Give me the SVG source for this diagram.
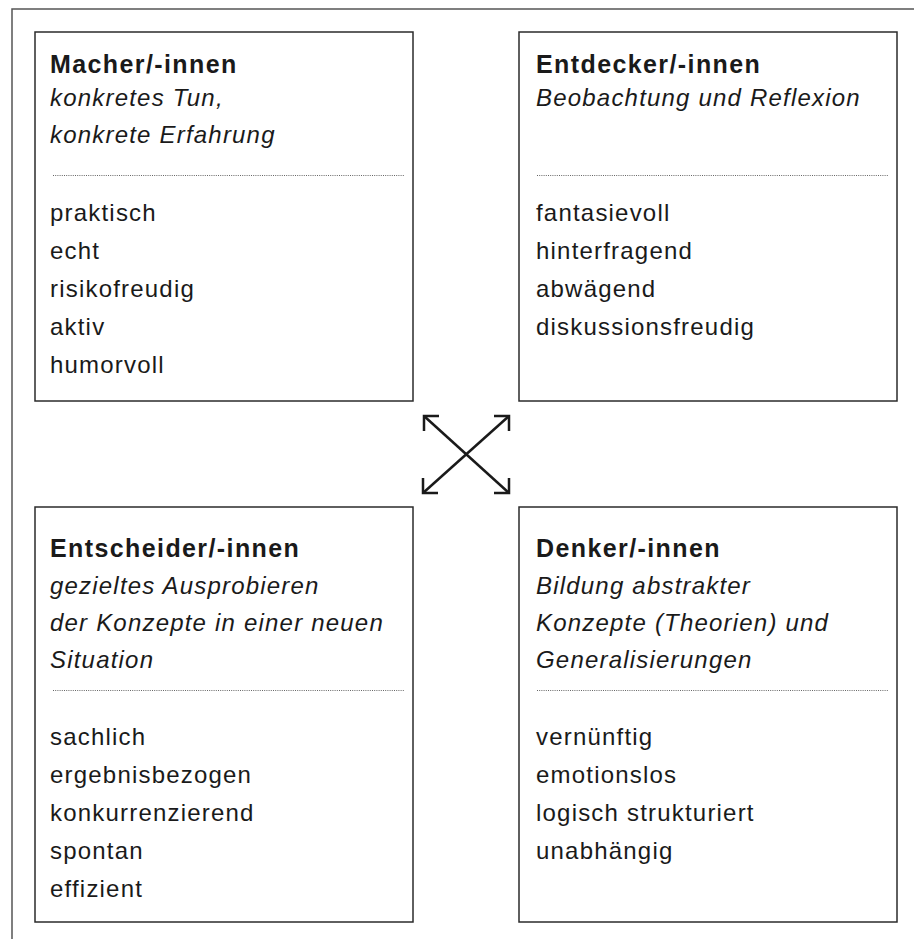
<svg xmlns="http://www.w3.org/2000/svg" width="914" height="939" viewBox="0 0 914 939">
<style>
.box{fill:#fff;stroke:#2b2b2b;stroke-width:1.5}
.frame{fill:none;stroke:#555;stroke-width:1.5}
.dot{stroke:#666;stroke-width:1;stroke-dasharray:1 1.2}
text{font-family:"Liberation Sans",Arial,sans-serif;fill:#1a1a1a}
.t{font-size:25px;font-weight:bold;letter-spacing:1.4px}
.i{font-size:24px;font-style:italic;letter-spacing:1.2px}
.b{font-size:24px;letter-spacing:1.2px}
.arr{fill:none;stroke:#1a1a1a;stroke-width:2.5;stroke-linecap:butt}
</style>
<rect width="914" height="939" fill="#fff"/>
<path class="frame" d="M12,939 V9 H914"/>
<g id="macher">
<rect class="box" x="35" y="32" width="378" height="369"/>
<text class="t" x="50" y="73">Macher/-innen</text>
<text class="i" x="50" y="106">konkretes Tun,</text>
<text class="i" x="50" y="143">konkrete Erfahrung</text>
<line class="dot" x1="53" y1="175.5" x2="405" y2="175.5"/>
<text class="b" x="50" y="221">praktisch</text>
<text class="b" x="50" y="259">echt</text>
<text class="b" x="50" y="297">risikofreudig</text>
<text class="b" x="50" y="335">aktiv</text>
<text class="b" x="50" y="373">humorvoll</text>
</g>
<g id="entdecker">
<rect class="box" x="519" y="32" width="378" height="369"/>
<text class="t" x="536" y="73">Entdecker/-innen</text>
<text class="i" x="536" y="106">Beobachtung und Reflexion</text>
<line class="dot" x1="537" y1="175.5" x2="889" y2="175.5"/>
<text class="b" x="536" y="221">fantasievoll</text>
<text class="b" x="536" y="259">hinterfragend</text>
<text class="b" x="536" y="297">abwägend</text>
<text class="b" x="536" y="335">diskussionsfreudig</text>
</g>
<g id="entscheider">
<rect class="box" x="35" y="507" width="378" height="415"/>
<text class="t" x="50" y="557">Entscheider/-innen</text>
<text class="i" x="50" y="594">gezieltes Ausprobieren</text>
<text class="i" x="50" y="631">der Konzepte in einer neuen</text>
<text class="i" x="50" y="668">Situation</text>
<line class="dot" x1="53" y1="690.5" x2="405" y2="690.5"/>
<text class="b" x="50" y="745">sachlich</text>
<text class="b" x="50" y="783">ergebnisbezogen</text>
<text class="b" x="50" y="821">konkurrenzierend</text>
<text class="b" x="50" y="859">spontan</text>
<text class="b" x="50" y="897">effizient</text>
</g>
<g id="denker">
<rect class="box" x="519" y="507" width="378" height="415"/>
<text class="t" x="536" y="557">Denker/-innen</text>
<text class="i" x="536" y="594">Bildung abstrakter</text>
<text class="i" x="536" y="631">Konzepte (Theorien) und</text>
<text class="i" x="536" y="668">Generalisierungen</text>
<line class="dot" x1="537" y1="690.5" x2="889" y2="690.5"/>
<text class="b" x="536" y="745">vernünftig</text>
<text class="b" x="536" y="783">emotionslos</text>
<text class="b" x="536" y="821">logisch strukturiert</text>
<text class="b" x="536" y="859">unabhängig</text>
</g>
<g id="connectors">
<line class="arr" x1="424" y1="416" x2="509" y2="493"/>
<line class="arr" x1="509" y1="416" x2="423" y2="493"/>
<path class="arr" d="M439,416 H424 V431"/>
<path class="arr" d="M494,416 H509 V431"/>
<path class="arr" d="M423,478 V493 H438"/>
<path class="arr" d="M509,478 V493 H494"/>
</g>
</svg>
